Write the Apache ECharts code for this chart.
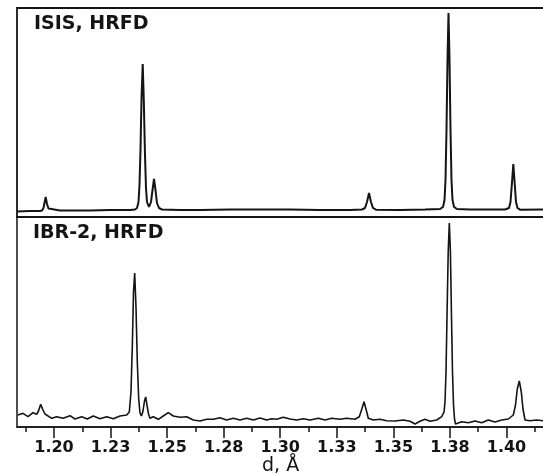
<!DOCTYPE html>
<html>
<head>
<meta charset="utf-8">
<script src="https://cdn.jsdelivr.net/npm/echarts@6/dist/echarts.min.js"></script>
<style>
  html, body { margin: 0; padding: 0; background: #fff; overflow: hidden; }
  #chart { width: 543px; height: 475px; }
</style>
</head>
<body>
<div id="chart"></div>
<script>
  // d-spacing (Å) and intensity, ISIS HRFD (upper panel)
  var isisD = [1.18365, 1.18939, 1.19381, 1.19470, 1.19536, 1.19580, 1.19633, 1.19691, 1.19757, 1.19823,
    1.20265, 1.20928, 1.21591, 1.22475, 1.23359, 1.23580, 1.23669, 1.23735, 1.23779, 1.23823,
    1.23867, 1.23921, 1.23969, 1.24022, 1.24066, 1.24110, 1.24199, 1.24287, 1.24354, 1.24420,
    1.24486, 1.24552, 1.24641, 1.24773, 1.25569, 1.26453, 1.27779, 1.29105, 1.30431, 1.31757,
    1.33083, 1.33613, 1.33746, 1.33834, 1.33923, 1.34011, 1.34099, 1.34232, 1.35293, 1.36398,
    1.37061, 1.37193, 1.37260, 1.37304, 1.37348, 1.37392, 1.37436, 1.37481, 1.37525, 1.37569,
    1.37613, 1.37680, 1.37812, 1.38387, 1.39271, 1.39934, 1.40111, 1.40177, 1.40234, 1.40301,
    1.40367, 1.40420, 1.40486, 1.40597, 1.41613];
  var isisI = [-1.5, -1, -1, -0.5, 2, 7, 13, 6, 1.5, 0,
    -0.5, -0.5, -0.5, 0, 0, 0.5, 2, 8, 25, 60,
    110, 146, 110, 55, 22, 8, 3, 8, 20, 31,
    20, 7, 2, 0.5, 0, 0, 0.5, 0.5, 0.5, 0,
    0, 0.5, 2, 8, 17, 8, 2, 0.3, 0, 0.5,
    1, 3, 10, 30, 80, 150, 197, 150, 80, 30,
    10, 3, 1, 0.5, 0.5, 0.5, 2, 8, 25, 46,
    25, 8, 2, 0.3, 0.5];

  // IBR-2 HRFD (lower panel)
  var ibrD = [1.18409, 1.18630, 1.18851, 1.19072, 1.19235, 1.19315, 1.19412, 1.19514, 1.19602, 1.19677,
    1.19898, 1.20119, 1.20398, 1.20707, 1.20928, 1.21224, 1.21472, 1.21737, 1.22033, 1.22329,
    1.22621, 1.22917, 1.23213, 1.23328, 1.23403, 1.23461, 1.23514, 1.23567, 1.23624, 1.23682,
    1.23744, 1.23801, 1.23867, 1.23934, 1.24000, 1.24053, 1.24110, 1.24177, 1.24243, 1.24389,
    1.24610, 1.24831, 1.25052, 1.25273, 1.25569, 1.25865, 1.26157, 1.26453, 1.26749, 1.27041,
    1.27337, 1.27633, 1.27925, 1.28221, 1.28517, 1.28809, 1.29105, 1.29401, 1.29622, 1.29843,
    1.30135, 1.30431, 1.30727, 1.31019, 1.31315, 1.31682, 1.31978, 1.32274, 1.32641, 1.32937,
    1.33304, 1.33494, 1.33591, 1.33702, 1.33812, 1.33892, 1.34113, 1.34409, 1.34705, 1.35072,
    1.35439, 1.35735, 1.35956, 1.36177, 1.36398, 1.36619, 1.36915, 1.37136, 1.37238, 1.37282,
    1.37326, 1.37370, 1.37423, 1.37472, 1.37521, 1.37569, 1.37613, 1.37658, 1.37702, 1.37746,
    1.38020, 1.38312, 1.38608, 1.38904, 1.39196, 1.39492, 1.39788, 1.40080, 1.40301, 1.40398,
    1.40477, 1.40566, 1.40654, 1.40729, 1.40818, 1.41039, 1.41335, 1.41613];
  var ibrI = [2, 3.7, 0.3, 4.3, 2.7, 6, 12.7, 7, 3, 2,
    -1.3, 0.3, -1.3, 1.3, -2, 0.3, -2, 1, -1.7, 0.3,
    -1.7, 1, 2, 5, 25, 70, 125, 144, 110, 55,
    18, 4, 1, 6, 16, 20, 12, 3, -1.3, 0.3,
    -2.3, 1, 4.3, 1, -0.3, 0.3, -3, -4, -2.3, -2.3,
    -0.7, -3, -1.3, -3, -1.3, -3, -1, -3, -1.7, -2.3,
    -0.3, -2, -3, -1.7, -3, -1.3, -3, -1.3, -2.3, -1.3,
    -2.3, 0.3, 7, 15.3, 6, -1.3, -3, -2.3, -3.7, -4,
    -3, -4.3, -7, -4.3, -2.3, -4.3, -3, 0.3, 5, 15,
    45, 100, 165, 194, 165, 100, 45, 12, -2, -7,
    -4.7, -5.7, -4, -5.7, -3, -5, -3, -2, 2, 12,
    28, 36, 25, 8, -3, -3.7, -3, -3.7];

  var tickValues = [1.2, 1.225, 1.25, 1.275, 1.3, 1.325, 1.35, 1.375, 1.4];
  var tickLabels = ['1.20', '1.23', '1.25', '1.28', '1.30', '1.33', '1.35', '1.38', '1.40'];
  var minorTickValues = [1.1875, 1.2125, 1.2375, 1.2625, 1.2875, 1.3125, 1.3375, 1.3625, 1.3875, 1.4125];
  var panelTitles = ['ISIS, HRFD', 'IBR-2, HRFD'];

  // the frame runs off the right edge of the page, so the axis range does too
  var dMin = 1.18365, dMax = 1.41613 + 12 / 2262.5;

  function pairs(xs, ys) {
    var out = [];
    for (var i = 0; i < xs.length; i++) out.push([xs[i], ys[i]]);
    return out;
  }

  var ink = '#141414';
  var chart = echarts.init(document.getElementById('chart'), null, { renderer: 'canvas' });

  chart.setOption({
    animation: false,
    backgroundColor: '#fff',
    grid: [
      { left: 17, right: -12, top: 8, height: 209, show: true, borderColor: ink, borderWidth: 1.8, outerBoundsMode: 'none' },
      { left: 17, right: -12, top: 217, height: 210, show: true, borderColor: ink, borderWidth: 1.5, outerBoundsMode: 'none' }
    ],
    xAxis: [
      { gridIndex: 0, type: 'value', min: dMin, max: dMax, show: false, axisLine: { onZero: false } },
      {
        gridIndex: 1, type: 'value', min: dMin, max: dMax, position: 'bottom',
        axisLine: { show: true, onZero: false, lineStyle: { color: ink, width: 1.5 } },
        axisTick: { show: true, length: 11, customValues: tickValues, lineStyle: { color: ink, width: 1.5 } },
        axisLabel: {
          show: true, margin: 13, customValues: tickValues,
          color: ink, fontFamily: 'DejaVu Sans', fontWeight: 'bold', fontSize: 16,
          formatter: function (v) {
            var i = Math.round((v - 1.2) / 0.025);
            return tickLabels[i] || '';
          }
        },
        splitLine: { show: false }
      },
      {
        gridIndex: 1, type: 'value', min: dMin, max: dMax, position: 'bottom',
        axisLine: { show: false, onZero: false },
        axisTick: { show: true, length: 5, customValues: minorTickValues, lineStyle: { color: ink, width: 1.5 } },
        axisLabel: { show: false },
        splitLine: { show: false }
      }
    ],
    yAxis: [
      { gridIndex: 0, type: 'value', min: -7, max: 202, show: false },
      { gridIndex: 1, type: 'value', min: -10, max: 200, show: false }
    ],
    graphic: [
      { type: 'text', left: 34, top: 15, style: { text: panelTitles[0], fill: ink, font: 'bold 19px "DejaVu Sans"' } },
      { type: 'text', left: 33, top: 224, style: { text: panelTitles[1], fill: ink, font: 'bold 19px "DejaVu Sans"' } },
      { type: 'text', left: 262, top: 457, style: { text: 'd, Å', fill: ink, font: '19px "DejaVu Sans"' } }
    ],
    series: [
      {
        name: 'ISIS', type: 'line', xAxisIndex: 0, yAxisIndex: 0,
        data: pairs(isisD, isisI), showSymbol: false, clip: true,
        lineStyle: { color: ink, width: 2 }
      },
      {
        name: 'IBR-2', type: 'line', xAxisIndex: 1, yAxisIndex: 1,
        data: pairs(ibrD, ibrI), showSymbol: false, clip: true,
        lineStyle: { color: ink, width: 1.6 }
      }
    ]
  });
</script>
</body>
</html>
